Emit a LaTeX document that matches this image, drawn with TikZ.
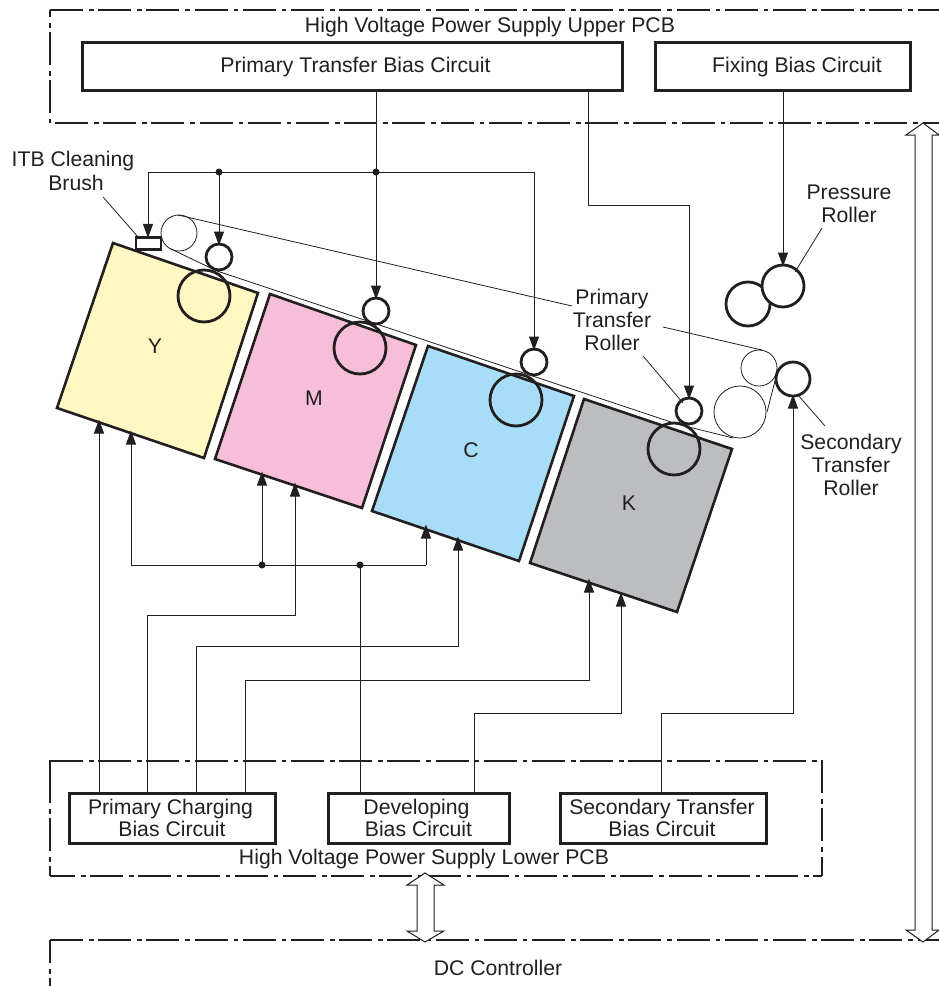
\documentclass[tikz,border=0pt]{standalone}
\usepackage{fontspec}
\setmainfont{Liberation Sans}
\usetikzlibrary{arrows.meta,calc}
\definecolor{ink}{HTML}{231F20}
\definecolor{yel}{HTML}{FFF8C2}
\definecolor{mag}{HTML}{F6BED8}
\definecolor{cya}{HTML}{A8DDF8}
\definecolor{gry}{HTML}{BBBDC0}
\tikzset{
  x=1pt,y=-1pt,
  pcb/.style={line width=2.3pt,draw=ink,dash pattern=on 33pt off 6pt on 4.5pt off 4.7pt},
  cbox/.style={draw=ink,line width=3pt,inner sep=0pt,outer sep=0pt},
  txt/.style={inner sep=0pt,align=center,text=ink,font=\fontsize{21.2}{22.4}\selectfont},
  lab/.style={txt,font=\fontsize{21.2}{23}\selectfont},
  wire/.style={draw=ink,line width=1pt},
  arw/.style={wire,-{Triangle[length=14pt,width=10pt]},shorten >=-1.5pt},
  thin line/.style={draw=ink,line width=0.8pt},
  cart/.style={draw=ink,line width=2.6pt,line join=miter},
  thick roller/.style={circle,draw=ink,line width=2.8pt,inner sep=0pt,outer sep=0pt,minimum size=#1},
  belt roller/.style={circle,draw=ink,line width=0.8pt,inner sep=0pt,outer sep=0pt,minimum size=#1},
  dot/.style={circle,fill=ink,inner sep=0pt,minimum size=7pt},
  hollow/.style={draw=ink,line width=1pt,fill=white},
}
\newcommand{\circuitbox}[5]{%
  \node[cbox,minimum width=#4-#2,minimum height=#5-#3] (#1) at ({(#2+#4)/2},{(#3+#5)/2}) {};}
\begin{document}
\begin{tikzpicture}
\useasboundingbox (0,0) rectangle (939,986);
% PCB outlines
\draw[pcb] (50,10) -- (939,10);
\draw[pcb,dash phase=26pt] (50,10) -- (50,123);
\draw[pcb] (55,123) -- (939,123);
\draw[pcb] (50,761) -- (822,761) -- (822,876);
\draw[pcb] (50,770) -- (50,876);
\draw[draw=ink,line width=2.3pt] (50,760) -- (50,770);
\draw[pcb,dash phase=8pt] (50,876) -- (822,876);
\draw[pcb] (50,940) -- (939,940);
\draw[pcb,dash phase=10pt] (50,940) -- (50,986);
% double arrows
\draw[hollow] (923,123) -- (906,135) -- (915,135) -- (915,930) -- (906,930) -- (923,942) -- (939,930) -- (932,930) -- (932,135) -- (939,135) -- cycle;
\draw[hollow] (425,873) -- (407,885) -- (417,885) -- (417,931) -- (407,931) -- (425,942) -- (444,931) -- (434,931) -- (434,885) -- (444,885) -- cycle;
% cartridges
\draw[cart,fill=yel] (113,243) -- (258,293) -- (204,458) -- (57,408) -- cycle;
\draw[cart,fill=mag] (270,294) -- (416,345) -- (362,508) -- (215,459) -- cycle;
\draw[cart,fill=cya] (428,346) -- (574,396) -- (519,561) -- (372,511) -- cycle;
\draw[cart,fill=gry] (584,399) -- (732,449) -- (677,612) -- (530,563) -- cycle;
\node[txt] (ly) at (155,346) {Y};
\node[txt] (lm) at (314,398) {M};
\node[txt] (lc) at (471,450) {C};
\node[txt] (lk) at (629,503) {K};
% boxes
\circuitbox{ptb}{82}{42}{622}{90}
\circuitbox{fix}{655}{42}{910}{90}
\circuitbox{pcb1}{69}{793}{275}{843}
\circuitbox{dev}{328}{793}{509}{843}
\circuitbox{stb}{560}{793}{766}{843}
\node[txt] (tptb) at (355.5,67.5) {Primary Transfer Bias Circuit};
\node[txt] (tfix) at (797,67.5) {Fixing Bias Circuit};
\node[txt] (tpcb) at (170.5,818) {Primary Charging\\\hspace*{3pt}Bias Circuit};
\node[txt] (tdev) at (416.5,818) {Developing\\\hspace*{4pt}Bias Circuit};
\node[txt] (tstb) at (662,818) {Secondary Transfer\\Bias Circuit};
\node[txt,fill=white,inner xsep=2pt] (up) at (490,27) {High Voltage Power Supply Upper PCB};
\node[txt] (low) at (424,859) {High Voltage Power Supply Lower PCB};
\node[txt] (dc) at (498,968) {DC Controller};
% belt
\node[belt roller=36pt] (bl) at (179,233) {};
\node[belt roller=36pt] (br) at (759,368) {};
\node[belt roller=52pt] (bb) at (740,412) {};
\coordinate (t1) at (178,215);
\coordinate (t2) at (572,306);
\coordinate (t3) at (663,327);
\coordinate (t4) at (762,350);
\coordinate (b1) at (171,249);
\coordinate (b2) at (217,271);
\coordinate (b3) at (677,424);
\coordinate (b3b) at (733,438);
\coordinate (b4) at (767,412);
\coordinate (b5) at (775,381);
\draw[thin line] (t1) -- (t2);
\draw[thin line] (t3) -- (t4);
\draw[thin line] (b1) -- (b2) -- (b3) -- (b3b);
\draw[thin line] (b4) -- (b5);
% rollers
\node[thick roller=52pt] (dy) at (204,296) {};
\node[thick roller=52pt] (dm) at (360,348) {};
\node[thick roller=52pt] (dc2) at (516,400) {};
\node[thick roller=52pt] (dk) at (674,449) {};
\node[thick roller=26pt] (ty) at (219,257) {};
\node[thick roller=26pt] (tm) at (376,311) {};
\node[thick roller=26pt] (tc) at (534,362) {};
\node[thick roller=26pt] (tk) at (689,411) {};
\node[thick roller=34pt] (sec) at (793,379) {};
\node[thick roller=44pt] (pr2) at (748,304) {};
\node[thick roller=42pt,fill=white] (pr) at (783,286) {};
\node[draw=ink,line width=2.2pt,fill=white,inner sep=0pt,minimum width=25pt,minimum height=12pt] (brush) at (148.5,243.5) {};
% labels
\node[txt] (lbrush1) at (73,161.5) {ITB Cleaning};
\node[txt] (lbrush2) at (76,183) {Brush};
\node[lab] (lpress) at (849,204) {Pressure\\Roller};
\node[lab] (lptr) at (612,319.5) {Primary\\Transfer\\Roller};
\node[lab] (lstr) at (851,465) {Secondary\\Transfer\\Roller};
% leaders
\coordinate (l1a) at (103,197); \coordinate (l1b) at (139,238);
\coordinate (l2a) at (822,228); \coordinate (l2b) at (795,272);
\coordinate (l3a) at (643,356); \coordinate (l3b) at (683,403);
\coordinate (l4a) at (825,426); \coordinate (l4b) at (797,394);
\draw[thin line] (l1a) -- (l1b);
\draw[thin line] (l2a) -- (l2b);
\draw[thin line] (l3a) -- (l3b);
\draw[thin line] (l4a) -- (l4b);
% upper wires
\coordinate (j1) at (376,172);
\coordinate (j2) at (219,172);
\coordinate (j0) at (148,172);
\coordinate (j3) at (534,172);
\draw[wire] (j0) -- (j3);
\draw[arw] (j0) -- (brush.north -| j0);
\draw[arw] (j2) -- (ty.north);
\draw[arw] (j3) -- (tc.north);
\draw[arw] (ptb.south -| j1) -- (tm.north);
\coordinate (k1) at (588,205);
\draw[arw] (ptb.south -| k1) -- (k1) -| (tk.north);
\draw[arw] (fix.south -| pr.north) -- (pr.north);
\node[dot] (dj1) at (j1) {};
\node[dot] (dj2) at (j2) {};
% lower wires
\coordinate (a1) at (99,421);
\coordinate (a2) at (295,484);
\coordinate (a3) at (458,538);
\coordinate (a4) at (589,580);
\coordinate (a5) at (621,594);
\coordinate (a6) at (131,432);
\coordinate (a7) at (262,473);
\coordinate (a8) at (426,526);
\coordinate (h2) at (147,615);
\coordinate (h3) at (196,646);
\coordinate (h4) at (245,680);
\coordinate (h5) at (474,713);
\coordinate (h6) at (661,713);
\coordinate (d0) at (131,565);
\coordinate (d1) at (262,565);
\coordinate (d2) at (360,565);
\coordinate (d3) at (426,565);
\draw[arw] (pcb1.north -| a1) -- (a1);
\draw[arw] (pcb1.north -| h2) -- (h2) -| (a2);
\draw[arw] (pcb1.north -| h3) -- (h3) -| (a3);
\draw[arw] (pcb1.north -| h4) -- (h4) -| (a4);
\draw[arw] (dev.north -| h5) -- (h5) -| (a5);
\draw[wire] (dev.north -| d2) -- (d2);
\draw[wire] (d0) -- (d3);
\draw[arw] (d0) -- (a6);
\draw[arw] (d1) -- (a7);
\draw[arw] (d3) -- (a8);
\node[dot] (dd1) at (d1) {};
\node[dot] (dd2) at (d2) {};
\draw[arw] (stb.north -| h6) -- (h6) -| (sec.south);
\end{tikzpicture}
\end{document}
